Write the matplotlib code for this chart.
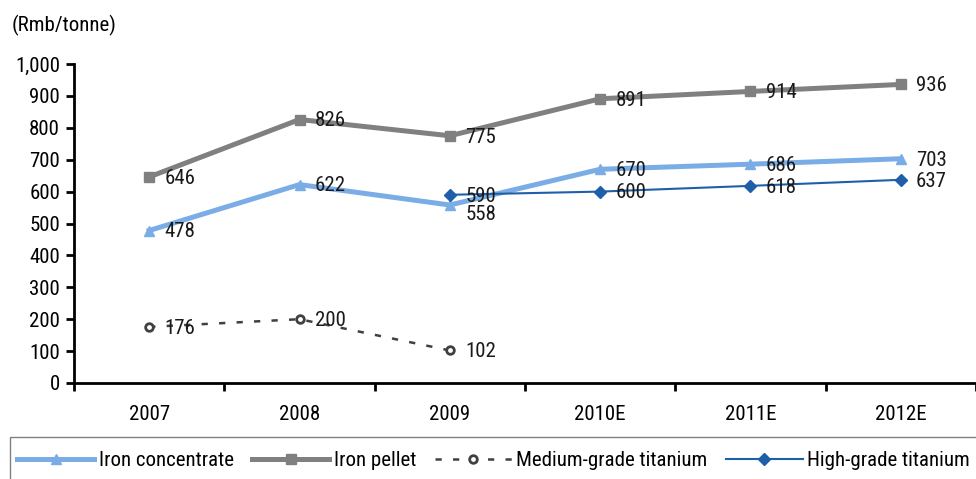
import numpy as np
import matplotlib
matplotlib.use("Agg")
import matplotlib.pyplot as plt
from matplotlib.patches import Rectangle

plt.rcParams['font.family'] = ['Roboto Condensed', 'DejaVu Sans']

years = ["2007", "2008", "2009", "2010E", "2011E", "2012E"]
iron_conc = [478, 622, 558, 670, 686, 703]
iron_pellet = [646, 826, 775, 891, 914, 936]
medium_ti = [176, 200, 102, None, None, None]
high_ti = [None, None, 590, 600, 618, 637]

fig = plt.figure(figsize=(9.76, 4.79), dpi=100)
ax = fig.add_axes([74 / 976, 1 - 383 / 479, 1 - 74 / 976, (383 - 64) / 479])

x = np.arange(len(years))

def series(vals):
    xs = [i for i, v in enumerate(vals) if v is not None]
    ys = [v for v in vals if v is not None]
    return np.array(xs), np.array(ys)

fs = 15

xs, ys = series(iron_conc)
ax.plot(xs, ys, color='#7AADE6', lw=3.6, marker='^', ms=7, label='Iron concentrate')
xs, ys = series(iron_pellet)
ax.plot(xs, ys, color='#808080', lw=3.6, marker='s', ms=7, label='Iron pellet')
xs, ys = series(medium_ti)
ax.plot(xs, ys, color='#404040', lw=1.8, ls=(0, (2.5, 4.5)), marker='o', ms=5.5,
        mfc='white', mew=2, label='Medium-grade titanium')
xs, ys = series(high_ti)
ax.plot(xs, ys, color='#1F5FAA', lw=1.5, marker='D', ms=6, label='High-grade titanium')

# data labels to the right of the points (the 2009 iron concentrate label sits a bit lower)
nudge = {(0, 2): -6}
for k, vals in enumerate([iron_conc, iron_pellet, medium_ti, high_ti]):
    xs, ys = series(vals)
    for xi, yi in zip(xs, ys):
        dy = nudge.get((k, xi), 0)
        ax.annotate(str(yi), (xi, yi), xytext=(11, dy - 1), textcoords='offset points',
                    ha='left', va='center', fontsize=fs, color='#1a1a1a')

ax.set_xlim(-0.5, len(years) - 0.5)
ax.set_ylim(0, 1000)
ax.set_yticks(np.arange(0, 1001, 100))
ax.set_yticklabels([f"{v:,}" for v in range(0, 1001, 100)], fontsize=fs)
ax.set_xticks(x)
ax.set_xticklabels(years, fontsize=fs)
ax.set_xticks(np.arange(-0.5, len(years)), minor=True)
ax.tick_params(axis='x', which='major', length=0, pad=16)
ax.tick_params(axis='x', which='minor', length=6, width=2, direction='out')
ax.tick_params(axis='y', length=6, width=2, direction='out', pad=4)

for s in ['top', 'right']:
    ax.spines[s].set_visible(False)
for s in ['left', 'bottom']:
    ax.spines[s].set_linewidth(2)

fig.text(12 / 976, 1 - 25 / 479, "(Rmb/tonne)", fontsize=fs, va='center', ha='left')

# legend box runs off the right and bottom edges, as in the original
fig.patches.append(Rectangle((10 / 976, -0.05), 1.0, 1 - 437 / 479 + 0.05,
                             transform=fig.transFigure, fill=False,
                             edgecolor='#808080', lw=1))
leg = fig.legend(loc='center left', bbox_to_anchor=(10 / 976, 1 - 461 / 479),
                 ncol=4, fontsize=fs, frameon=False,
                 handlelength=3.7, handletextpad=0.2, columnspacing=0.9,
                 borderaxespad=0, borderpad=0.35)

fig.savefig("out.png", dpi=100)
